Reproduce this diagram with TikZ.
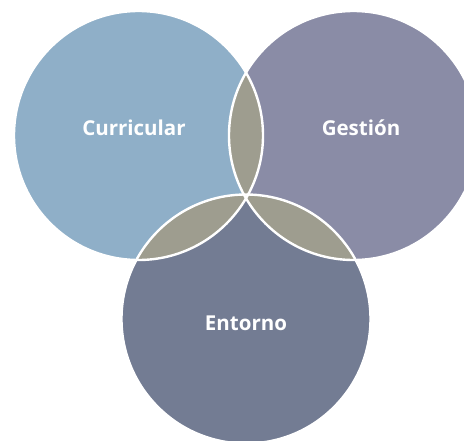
\documentclass[tikz,border=0pt]{standalone}
\usepackage{fontspec}
\setmainfont{Open Sans}
\definecolor{curfill}{RGB}{143,175,200}
\definecolor{gesfill}{RGB}{138,140,166}
\definecolor{entfill}{RGB}{115,124,147}
\definecolor{lensfill}{RGB}{158,157,143}
\begin{document}
\begin{tikzpicture}[x=1pt,y=-1pt,
    setlabel/.style={text=white,font=\bfseries\fontsize{20.5}{20.5}\selectfont,inner sep=0pt},
    rim/.style={draw=white,line width=2.4pt}]
  \fill[white] (0,0) rectangle (464,440);
  \useasboundingbox (0,0) rectangle (464,440);
  \clip (0,0) rectangle (464,440);
  % centres of the three sets
  \coordinate (cc) at (138.5,135.5);
  \coordinate (gc) at (353.5,135.5);
  \coordinate (ec) at (246,319);
  \def\rad{124.5pt}
  % set discs
  \fill[curfill] (cc) circle[radius=\rad];
  \fill[gesfill] (gc) circle[radius=\rad];
  \fill[entfill] (ec) circle[radius=\rad];
  % pairwise overlaps
  \begin{scope}
    \clip (cc) circle[radius=\rad];
    \fill[lensfill] (gc) circle[radius=\rad];
    \fill[lensfill] (ec) circle[radius=\rad];
  \end{scope}
  \begin{scope}
    \clip (gc) circle[radius=\rad];
    \fill[lensfill] (ec) circle[radius=\rad];
  \end{scope}
  % white outlines
  \draw[rim] (cc) circle[radius=\rad];
  \draw[rim] (gc) circle[radius=\rad];
  \draw[rim] (ec) circle[radius=\rad];
  % labels
  \node[setlabel] (curlabel) at (134,128) {Curricular};
  \node[setlabel] (geslabel) at (361,128) {Gestión};
  \node[setlabel] (entlabel) at (246,323) {Entorno};
\end{tikzpicture}
\end{document}
